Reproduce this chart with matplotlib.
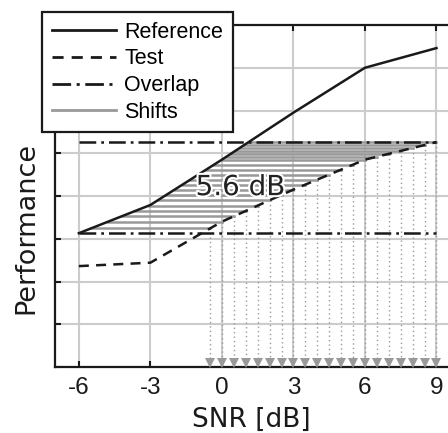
import numpy as np
import matplotlib
matplotlib.use('Agg')
import matplotlib.pyplot as plt
import matplotlib.patheffects as pe

# ---- data ----
snr = [-6, -3, 0, 3, 6, 9]
reference = [3.13, 3.79, 4.85, 5.95, 7.0, 7.46]
test = [2.36, 2.44, 3.40, 4.15, 4.85, 5.26]
shift_snr = [-0.5, 0.0, 0.5, 1.0, 1.5, 2.0, 2.5, 3.0, 3.5, 4.0,
             4.5, 5.0, 5.5, 6.0, 6.5, 7.0, 7.5, 8.0, 8.5, 9.0]
x_ticks = [-6, -3, 0, 3, 6, 9]
x_tick_labels = ['-6', '-3', '0', '3', '6', '9']
y_ticks = [0, 1, 2, 3, 4, 5, 6, 7, 8]
shift_label = '5.6 dB'
legend_labels = ['Reference', 'Test', 'Overlap', 'Shifts']

# derived shift geometry (horizontal distance between curves at equal performance)
levels = np.interp(shift_snr, snr, test)
ref_x = np.interp(levels, reference, snr)
overlap_lo = min(reference)
overlap_hi = max(test)

fig = plt.figure(figsize=(4.48, 4.33), dpi=100)
ax = fig.add_axes([55 / 448, 66 / 433, 393.4 / 448, 342 / 433])

grey = '#999999'
dark = '#1a1a1a'
lw = 1.8

# dotted drop lines with arrows
for xs, lv in zip(shift_snr, levels):
    ax.plot([xs, xs], [lv, 0], color=grey, lw=1.0, linestyle=(0, (1, 2.2)), zorder=2)
ax.plot(shift_snr, [0.1] * len(shift_snr), linestyle='none', marker='v',
        markersize=6.5, color=grey, markeredgewidth=0, zorder=3, clip_on=False)

# shift lines
for i, (x0, x1, lv) in enumerate(zip(ref_x, shift_snr, levels)):
    ax.plot([x0, x1], [lv, lv], color=grey, lw=1.8, zorder=3,
            label=legend_labels[3] if i == 0 else None)

# overlap lines
ax.plot([-6, 9], [overlap_lo, overlap_lo], color=dark, lw=lw,
        dashes=(6.7, 2, 1.1, 2), zorder=4, label=legend_labels[2])
ax.plot([-6, 9], [overlap_hi, overlap_hi], color=dark, lw=lw,
        dashes=(6.7, 2, 1.1, 2), zorder=4)

# curves
ax.plot(snr, reference, color=dark, lw=lw, zorder=5, label=legend_labels[0])
ax.plot(snr, test, color=dark, lw=lw, dashes=(4, 2.9), zorder=5, label=legend_labels[1])

ax.text(0.78, 4.02, shift_label, ha='center', va='baseline', fontsize=20,
        color='#222222', zorder=6,
        path_effects=[pe.withStroke(linewidth=3, foreground='white')])

ax.set_xlim(-7, 9.5)
ax.set_ylim(0, 8)
ax.set_xticks(x_ticks)
ax.set_xticklabels(x_tick_labels, fontfamily='Liberation Sans', fontsize=17.5)
ax.set_yticks(y_ticks)
ax.set_yticklabels([])
ax.tick_params(direction='in', length=4, width=1.5, top=True, right=False,
               pad=7.5, colors=dark)
ax.grid(True, color='#cccccc', lw=1.5, zorder=0)
ax.set_axisbelow(True)
for s in ['left', 'bottom', 'top']:
    ax.spines[s].set_linewidth(1.6)
    ax.spines[s].set_color(dark)
ax.spines['right'].set_visible(False)

ax.set_xlabel('SNR [dB]', fontsize=19, color=dark)
ax.xaxis.set_label_coords(0.5, -0.118)
ax.set_ylabel('Performance', fontsize=19.5, color=dark)
ax.yaxis.set_label_coords(-0.04, 0.408)

handles, labels = ax.get_legend_handles_labels()
order = [labels.index(l) for l in legend_labels]
leg = ax.legend([handles[i] for i in order], [labels[i] for i in order],
                loc='upper left', bbox_to_anchor=(42 / 448, 1 - 12 / 433),
                bbox_transform=fig.transFigure, borderaxespad=0,
                prop={'family': 'Liberation Sans', 'size': 15.5},
                handlelength=3.0, handletextpad=0.37, labelspacing=0.265,
                borderpad=0.45,
                fancybox=False, framealpha=1, edgecolor=dark)
leg.get_frame().set_linewidth(1.6)
leg.set_zorder(10)
for line in leg.get_lines():
    line.set_linewidth(2.0)

fig.savefig('out.png', dpi=100)
